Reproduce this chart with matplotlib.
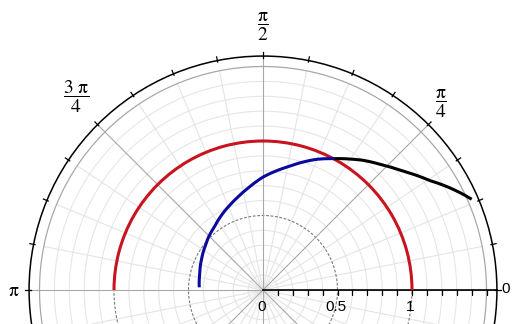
import numpy as np
import matplotlib
matplotlib.use('Agg')
import matplotlib.pyplot as plt

plt.rcParams['mathtext.fontset'] = 'stix'

# curves: angle in degrees, radius
red_theta = [0, 30, 60, 90, 120, 150, 180]
red_r = [1.0, 1.0, 1.0, 1.0, 1.0, 1.0, 1.0]

blue_theta = [177.6, 170, 162.4, 153, 143.2, 135, 127.2, 118.8, 111.2, 104.8, 98.2, 94, 90, 84.2, 78.4, 72.6, 67.7, 61.5]
blue_r = [0.428, 0.434, 0.444, 0.462, 0.486, 0.512, 0.536, 0.575, 0.612, 0.648, 0.692, 0.725, 0.758, 0.800, 0.845, 0.900, 0.948, 1.003]

black_theta = [61.5, 56.4, 52.3, 47.1, 42.1, 37.6, 33.2, 29.4, 25.5, 23.5]
black_r = [1.003, 1.055, 1.100, 1.152, 1.210, 1.273, 1.340, 1.415, 1.490, 1.527]

radial_labels = ['0', '0.5', '1']
radial_label_pos = [0, 0.5, 1.0]

W, H = 513, 324
cx, cy = 263, 290          # centre of the polar plot, pixels from top-left
rmax = 1.57
scale = 149.0              # pixels per unit radius
R = rmax * scale

fig = plt.figure(figsize=(W / 100, H / 100), dpi=100)
fig.patch.set_facecolor('white')
ax = fig.add_axes([(cx - R) / W, (H - cy - R) / H, 2 * R / W, 2 * R / H],
                  projection='polar')
ax.set_ylim(0, rmax)
ax.set_xticks([])
ax.set_yticks([])
ax.grid(False)
ax.spines['polar'].set_color('black')
ax.spines['polar'].set_linewidth(1.1)

full = np.linspace(0, 2 * np.pi, 721)

# grid circles every 0.1
for k in range(1, 16):
    r = k / 10
    if k in (5, 10):
        ax.plot(full, [r] * len(full), color='#7a7a7a', lw=0.8, ls=(0, (2.5, 1.5)), zorder=1)
    elif k == 15:
        ax.plot(full, [r] * len(full), color='#a8a8a8', lw=0.9, zorder=1)
    else:
        ax.plot(full, [r] * len(full), color='#e6e6e6', lw=0.8, zorder=0)

# radial grid lines every pi/16, darker every pi/4
for k in range(32):
    t = k * np.pi / 16
    if k % 4 == 0:
        ax.plot([t, t], [0, rmax], color='#a8a8a8', lw=0.8, zorder=1)
    else:
        ax.plot([t, t], [0, 1.5], color='#e4e4e4', lw=0.8, zorder=0)

# outer ticks on the frame
for k in range(32):
    t = k * np.pi / 16
    ax.plot([t, t], [rmax - 0.01, rmax + 0.025], color='black', lw=0.9, clip_on=False, zorder=3)

# black radial axis along 0 with ticks below
ax.plot([0, 0], [0, rmax], color='black', lw=1.2, zorder=3)
ax.plot([0] * 15, [k / 10 for k in range(1, 16)], ls='none', marker=3,
        markersize=3.5, color='black', markeredgewidth=0.9, zorder=3)

for lab, r in zip(radial_labels, radial_label_pos):
    ax.annotate(lab, xy=(0, r), xytext=(-1, -12), textcoords='offset points',
                ha='center', va='center', fontsize=11, family='Liberation Sans',
                annotation_clip=False)

# curves; let the polar transform bend the segments between the read points
curves = [(red_theta, red_r, '#c8141e', 4),
          (blue_theta, blue_r, '#0a0a9c', 5),
          (black_theta, black_r, 'black', 5)]
for th, rr, col, z in curves:
    line, = ax.plot(np.radians(th), rr, color=col, lw=2.2, zorder=z,
                    solid_capstyle='butt', solid_joinstyle='round')
    line.get_path()._interpolation_steps = 40

# angle labels


def ftext(x, y, s, **kw):
    fig.text(x / W, 1 - y / H, s, ha='center', va='center', **kw)


ftext(263, 27, r'$\dfrac{\mathrm{\pi}}{2}$', fontsize=14)
ftext(76, 97, r'$\dfrac{3\ \mathrm{\pi}}{4}$', fontsize=14)
ftext(441, 104, r'$\dfrac{\mathrm{\pi}}{4}$', fontsize=14)
ftext(506, 289, '0', fontsize=11, family='Liberation Sans')
ftext(14, 291, r'$\mathrm{\pi}$', fontsize=14)

fig.savefig('out.png', dpi=100, facecolor='white')
